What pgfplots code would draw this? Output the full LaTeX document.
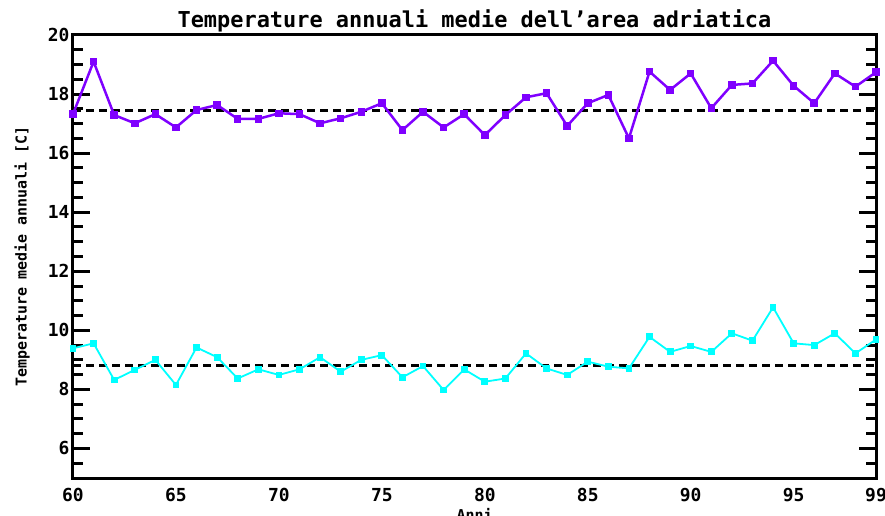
\documentclass[border=0pt]{standalone}
\usepackage{fontspec}
\setmainfont{DejaVu Sans Mono}
\usepackage{pgfplots}
\pgfplotsset{compat=1.18}
\definecolor{vio}{RGB}{127,0,255}
\definecolor{cy}{RGB}{0,255,255}
\pgfplotstableread{
year t
1960 17.32
1961 19.10
1962 17.29
1963 17.01
1964 17.32
1965 16.87
1966 17.46
1967 17.63
1968 17.16
1969 17.16
1970 17.35
1971 17.32
1972 17.01
1973 17.18
1974 17.40
1975 17.69
1976 16.78
1977 17.40
1978 16.87
1979 17.32
1980 16.61
1981 17.29
1982 17.89
1983 18.03
1984 16.92
1985 17.69
1986 17.97
1987 16.50
1988 18.76
1989 18.14
1990 18.70
1991 17.52
1992 18.31
1993 18.36
1994 19.13
1995 18.28
1996 17.69
1997 18.70
1998 18.25
1999 18.74
}\tmax
\pgfplotstableread{
year t
1960 9.39
1961 9.56
1962 8.32
1963 8.66
1964 9.00
1965 8.15
1966 9.42
1967 9.09
1968 8.37
1969 8.68
1970 8.49
1971 8.68
1972 9.09
1973 8.60
1974 9.00
1975 9.16
1976 8.41
1977 8.79
1978 7.98
1979 8.68
1980 8.26
1981 8.37
1982 9.22
1983 8.71
1984 8.49
1985 8.94
1986 8.77
1987 8.71
1988 9.78
1989 9.27
1990 9.47
1991 9.27
1992 9.90
1993 9.65
1994 10.78
1995 9.56
1996 9.50
1997 9.90
1998 9.22
1999 9.69
}\tmin
\begin{document}
\begin{tikzpicture}
\begin{axis}[name=ax, scale only axis, width=803bp, height=443bp,
 xmin=1960, xmax=1999, ymin=5, ymax=20,
 xtick=\empty,
 extra x ticks={1960,1965,1970,1975,1980,1985,1990,1995,1999},
 extra x tick labels={60,65,70,75,80,85,90,95,99},
 extra x tick style={tick style={draw=none}},
 minor xtick={1960,...,1999},
 ytick={6,8,...,20}, minor ytick={5,5.5,...,20},
 tick align=inside, major tick length=17bp, minor tick length=10bp,
 every tick/.style={black, line width=3bp},
 axis line style={line width=3bp},
 /pgf/number format/assume math mode=true,
 ticklabel style={font=\fontsize{18}{18}\selectfont\bfseries},
 xticklabel style={yshift=-7bp},
 title={Temperature annuali medie dell'area adriatica},
 title style={font=\fontsize{22}{22}\selectfont\bfseries, at={(axis description cs:0.5,1)}, anchor=base, yshift=2bp, inner sep=0pt},
 ylabel={Temperature medie annuali [C]},
 ylabel style={font=\fontsize{15}{15}\selectfont\bfseries, at={(axis description cs:0,0.5)}, anchor=center, yshift=51bp, inner sep=0pt},
 xlabel={Anni},
 xlabel style={font=\fontsize{15}{15}\selectfont\bfseries, at={(axis description cs:0.5,0)}, anchor=north, yshift=-30bp, inner sep=0pt},
]
\addplot[black, line width=3bp, dash pattern=on 8bp off 5bp] coordinates {(1960,17.43) (1999,17.43)};
\addplot[black, line width=3bp, dash pattern=on 8bp off 5bp] coordinates {(1960,8.80) (1999,8.80)};
\addplot[vio, line width=2.5bp, mark=square*, mark size=2.5bp] table[x=year,y=t] {\tmax};
\addplot[cy, line width=1.8bp, mark=square*, mark size=2.5bp] table[x=year,y=t] {\tmin};
\end{axis}
\pgfresetboundingbox
\path[use as bounding box] ([xshift=-73bp,yshift=-37bp]ax.south west) rectangle ([xshift=9bp,yshift=35bp]ax.north east);
\end{tikzpicture}
\end{document}
